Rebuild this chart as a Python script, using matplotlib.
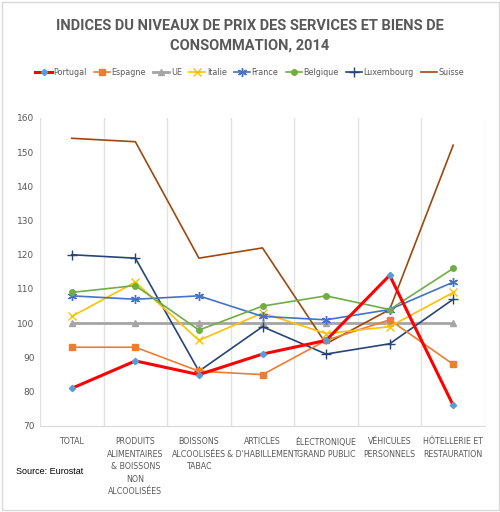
import matplotlib.pyplot as plt
import matplotlib.patches as mpatches

# categories and values
categories = ["TOTAL", "PRODUITS\nALIMENTAIRES\n& BOISSONS\nNON\nALCOOLISÉES",
              "BOISSONS\nALCOOLISÉES\nTABAC", "ARTICLES\n& D'HABILLEMENT",
              "ÉLECTRONIQUE\nGRAND PUBLIC", "VÉHICULES\nPERSONNELS",
              "HÔTELLERIE ET\nRESTAURATION"]
portugal = [81, 89, 85, 91, 95, 114, 76]
espagne = [93, 93, 86, 85, 95, 101, 88]
ue = [100, 100, 100, 100, 100, 100, 100]
italie = [102, 112, 95, 103, 97, 99, 109]
france = [108, 107, 108, 102, 101, 104, 112]
belgique = [109, 111, 98, 105, 108, 104, 116]
luxembourg = [120, 119, 86, 99, 91, 94, 107]
suisse = [154, 153, 119, 122, 94, 104, 152]

grey = "#595959"
fig = plt.figure(figsize=(5, 5.12), dpi=100)
fig.patches.append(mpatches.Rectangle((0.003, 0.003), 0.994, 0.994, transform=fig.transFigure,
                                      fill=False, edgecolor="#d9d9d9", lw=1))
ax = fig.add_axes([0.08, 0.168, 0.89, 0.602])
x = range(len(categories))

# series: (name, values, color, marker, lw, ms, marker color)
series = [
    ("Portugal", portugal, "#FF0000", "D", 2.2, 3.2, "#5B9BD5"),
    ("Espagne", espagne, "#ED7D31", "s", 1.2, 4, "#ED7D31"),
    ("UE", ue, "#A5A5A5", "^", 2.0, 4, "#A5A5A5"),
    ("Italie", italie, "#FFC000", "x", 1.2, 5.5, "#FFC000"),
    ("France", france, "#4472C4", (6, 2, 0), 1.2, 6.5, "#4472C4"),
    ("Belgique", belgique, "#70AD47", "o", 1.2, 4, "#70AD47"),
    ("Luxembourg", luxembourg, "#264478", "+", 1.2, 6.5, "#264478"),
    ("Suisse", suisse, "#9E480E", None, 1.2, 0, "#9E480E"),
]
order = [2, 7, 6, 1, 3, 4, 5, 0]
handles = {}
for i in order:
    name, vals, col, mk, lw, ms, mcol = series[i]
    h, = ax.plot(x, vals, color=col, lw=lw, marker=mk, ms=ms, mfc=mcol, mec=mcol, mew=1, label=name)
    handles[name] = h

ax.set_xlim(-0.5, 6.5)
ax.set_ylim(70, 160)
ax.set_yticks(range(70, 161, 10))
ax.set_xticks(list(x))
ax.set_xticklabels(categories, fontsize=5.7, color=grey, linespacing=1.5)
ax.set_xticks([i + 0.5 for i in range(-1, 7)], minor=True)
ax.grid(axis="x", which="minor", color="#e3e3e3", lw=1)
ax.tick_params(axis="both", which="both", length=0, pad=8)
ax.tick_params(axis="y", labelsize=6.5, labelcolor=grey, pad=4)
for s in ["top", "right", "left"]:
    ax.spines[s].set_visible(False)
ax.spines["bottom"].set_color("#d9d9d9")

fig.text(0.5, 0.962, "INDICES DU NIVEAUX DE PRIX DES SERVICES ET BIENS DE\nCONSOMMATION, 2014",
         ha="center", va="top", fontsize=10.5, fontweight="bold", family="Roboto", color=grey,
         linespacing=1.45)
names = [s[0] for s in series]
fig.legend([handles[n] for n in names], names, loc="center", bbox_to_anchor=(0.5, 0.858), ncol=8,
           frameon=False, fontsize=5.8, handlelength=2.0, handletextpad=0.2, columnspacing=0.9,
           labelcolor=grey)
fig.text(0.032, 0.074, "Source: Eurostat", fontsize=6.5, family="Liberation Sans", color="black")

fig.savefig("out.png", dpi=100)
